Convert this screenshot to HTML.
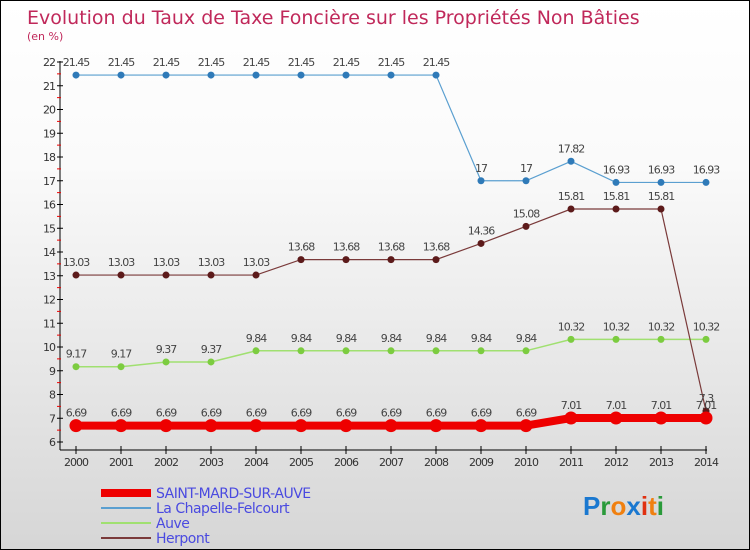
<!DOCTYPE html>
<html><head><meta charset="utf-8"><style>
body{margin:0}
#c{width:748px;height:548px;border:1px solid #000;position:relative;background:linear-gradient(#fff,#fafafa 30%,#d6d6d6);font-family:"DejaVu Sans","Liberation Sans",sans-serif;overflow:hidden}
</style></head><body>
<div id="c">
<svg id="s" width="748" height="548" xmlns="http://www.w3.org/2000/svg"></svg>
</div>
<script>
const years=[2000,2001,2002,2003,2004,2005,2006,2007,2008,2009,2010,2011,2012,2013,2014];
const saint=[6.69,6.69,6.69,6.69,6.69,6.69,6.69,6.69,6.69,6.69,6.69,7.01,7.01,7.01,7.01];
const chapelle=[21.45,21.45,21.45,21.45,21.45,21.45,21.45,21.45,21.45,17,17,17.82,16.93,16.93,16.93];
const auve=[9.17,9.17,9.37,9.37,9.84,9.84,9.84,9.84,9.84,9.84,9.84,10.32,10.32,10.32,10.32];
const herpont=[13.03,13.03,13.03,13.03,13.03,13.68,13.68,13.68,13.68,14.36,15.08,15.81,15.81,15.81,7.3];
const yTicks=[6,7,8,9,10,11,12,13,14,15,16,17,18,19,20,21,22];
const names=["SAINT-MARD-SUR-AUVE","La Chapelle-Felcourt","Auve","Herpont"];
const s=document.getElementById('s');const NS='http://www.w3.org/2000/svg';
const X=i=>75+i*45, Y=v=>61+(22-v)*23.75;
function el(t,a,p){const e=document.createElementNS(NS,t);for(const k in a)e.setAttribute(k,a[k]);(p||s).appendChild(e);return e}
function tx(x,y,str,a){const e=el('text',Object.assign({x:x,y:y},a));e.textContent=str;return e}
let t=tx(26,23,'Evolution du Taux de Taxe Foncière sur les Propriétés Non Bâties',{fill:'#c0285a','font-size':'19'});


t=tx(26,39,'(en %)',{fill:'#c0285a','font-size':'11'});


let ax=el('line',{x1:59,y1:60,x2:59,y2:449,stroke:'#000'});


yTicks.forEach(v=>{el('line',{x1:56,y1:Y(v),x2:62,y2:Y(v),stroke:'#000'});
if(v<22)el('line',{x1:56,y1:Y(v+0.5),x2:60,y2:Y(v+0.5),stroke:'#e00'});
const l=tx(54,Y(v)+4,String(v),{fill:'#333','font-size':'11','text-anchor':'end','letter-spacing':'-1'});

});
let xa=el('line',{x1:59,y1:449,x2:706,y2:449,stroke:'#000'});


years.forEach((y,i)=>{el('line',{x1:X(i),y1:445,x2:X(i),y2:453,stroke:'#000'});
const l=tx(X(i),465,String(y),{fill:'#333','font-size':'11','text-anchor':'middle','letter-spacing':'-1'});

});
function series(data,color,w,r,dotc,name,labels){
const g=el('g',{});


el('polyline',{points:data.map((v,i)=>X(i)+','+Y(v)).join(' '),fill:'none',stroke:color,'stroke-width':w},g);
data.forEach((v,i)=>{const c=el('circle',{cx:X(i),cy:Y(v),r:r,fill:dotc},g);


if(labels)tx(X(i),Y(v)-9,String(v),{fill:'#444','font-size':'11','text-anchor':'middle','letter-spacing':'-1'},g);});}
series(chapelle,'#5a9fd0',1.2,3.5,'#2f7ab8','series-la-chapelle',true);
series(auve,'#a0e070',1.5,3.5,'#7ccc40','series-auve',true);
series(herpont,'#7a3a3a',1.2,3.5,'#5c1a1a','series-herpont',true);
series(saint,'#ee0000',8,6.5,'#ee0000','series-saint-mard',true);
const lc=['#ee0000','#5a9fd0','#a0e070','#7a3a3a'],lw=[8,2,2,2];
names.forEach((n,i)=>{const y=492+i*15;
const g=el('g',{});


el('line',{x1:100,y1:y,x2:150,y2:y,stroke:lc[i],'stroke-width':lw[i]},g);
tx(155,y+5,n,{fill:'#4a4ae0','font-size':'14','letter-spacing':'-0.5'},g);});
const lg=el('text',{x:582,y:514,'font-size':'26','font-family':'Liberation Sans, sans-serif','font-weight':'bold'});


[['P','#1a78d0'],['r','#2a9a3a'],['o','#f08010'],['x','#1a78d0'],['i','#e03010'],['t','#f08010'],['i','#2a9a3a']].forEach(([c,f])=>{const ts=el('tspan',{fill:f},lg);ts.textContent=c;});
</script>
</body></html>
